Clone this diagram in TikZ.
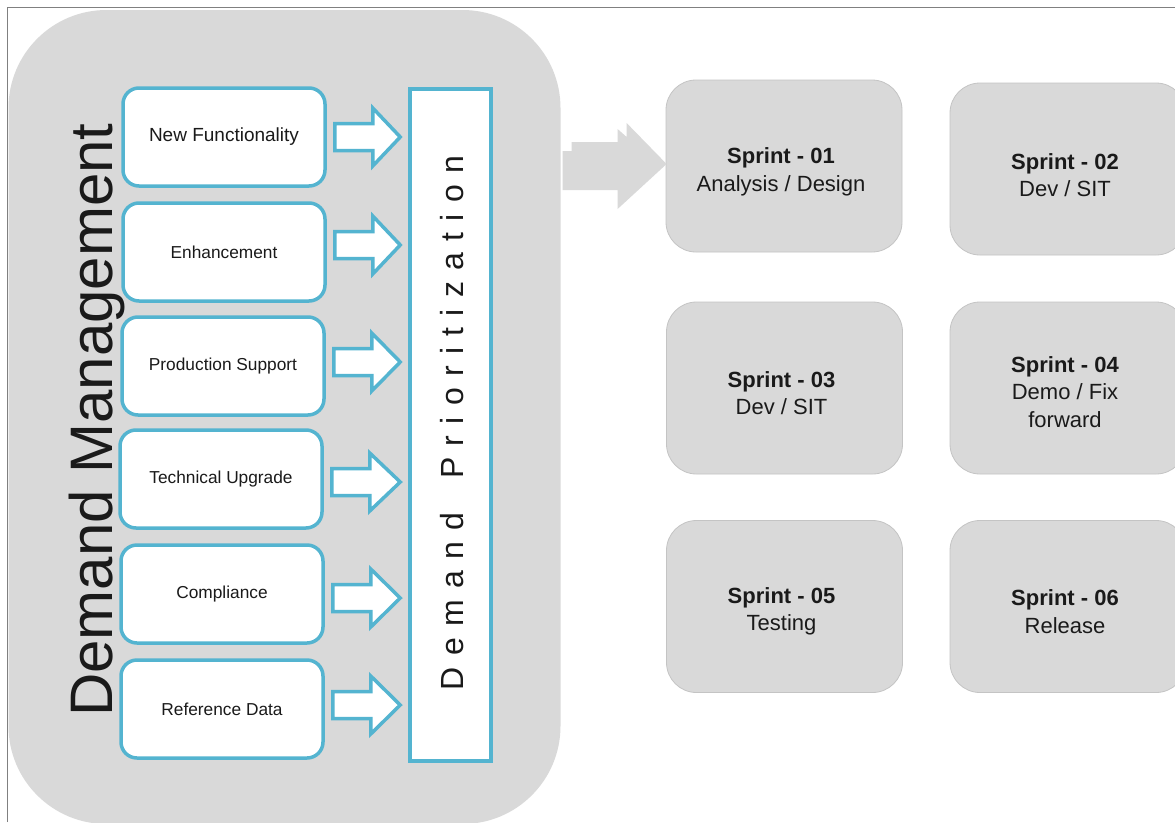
\documentclass[tikz,border=0pt]{standalone}
\usepackage{fontspec}
\setmainfont{Liberation Sans}
\usetikzlibrary{calc}

\definecolor{aqua}{RGB}{84,180,208}
\definecolor{panel}{RGB}{217,217,217}
\definecolor{panelline}{RGB}{196,196,196}
\definecolor{framegray}{RGB}{128,128,128}
\definecolor{ink}{RGB}{26,26,26}

% hollow block arrow from a demand box to the prioritization bar
\newcommand\feedarrow[2]{%
  \coordinate (fs) at ($(#1.east)+(8,#2)$);
  \coordinate (ft) at ($(prio.west |- fs)+(-8,0)$);
  \draw[hollow] ($(fs)+(0,-13.5)$) -- ($(fs)+(38,-13.5)$) -- ($(fs)+(38,-29)$)
    -- (ft) -- ($(fs)+(38,29)$) -- ($(fs)+(38,13.5)$) -- ($(fs)+(0,13.5)$) -- cycle;
}

\begin{document}
\begin{tikzpicture}[x=1pt,y=-1pt,
  demand/.style={draw=aqua, line width=3.5pt, fill=white, rounded corners=16pt,
    minimum width=202pt, minimum height=98pt, inner sep=0pt,
    font=\fontsize{17.3}{20}\selectfont, text=ink},
  sprint/.style={draw=panelline, line width=0.8pt, fill=panel, rounded corners=30pt,
    minimum width=236pt, minimum height=172pt, inner sep=0pt},
  sprinttext/.style={align=center, inner sep=0pt,
    font=\fontsize{22}{27.5}\selectfont, text=ink},
  hollow/.style={draw=aqua, line width=3.5pt, fill=white, line join=miter},
]
\useasboundingbox (0,0) rectangle (1175,822);
\fill[white] (0,0) rectangle (1175,822);

% outer frame
\draw[framegray, line width=1.2pt] (7.5,822) -- (7.5,7.5) -- (1175,7.5);

% demand management panel
\fill[panel, rounded corners=98pt] (8.5,10) rectangle (560.5,824);

\node[rotate=90, font=\fontsize{60}{60}\selectfont, text=ink] (dm) at (97,420) {Demand Management};

% demand categories
\node[demand, font=\fontsize{19}{22}\selectfont] (b1) at (224,137) {New Functionality};
\node[demand] (b2) at (224,252) {Enhancement};
\node[demand] (b3) at (223,366) {Production Support};
\node[demand] (b4) at (221,479) {Technical Upgrade};
\node[demand] (b5) at (222,594) {Compliance};
\node[demand] (b6) at (222,709) {Reference Data};

% prioritization bar
\node[draw=aqua, line width=3.5pt, fill=white, minimum width=81pt, minimum height=672pt,
  inner sep=0pt] (prio) at (450.5,425) {};
\def\ls{\hspace{11.3pt}}
\node[rotate=90, font=\fontsize{32}{32}\selectfont, text=ink, inner sep=0pt]
  (priotext) at ($(prio.center)+(2,-2)$)
  {D\ls e\ls m\ls a\ls n\ls d\hspace{34pt}P\ls r\ls i\ls o\ls r\ls i\ls t\ls i\ls z\ls a\ls t\ls i\ls o\ls n};

\feedarrow{b1}{0}
\feedarrow{b2}{-7}
\feedarrow{b3}{-4}
\feedarrow{b4}{3}
\feedarrow{b5}{4}
\feedarrow{b6}{-4}

% sprints
\node[sprint] (s1) at (784,166) {};
\node[sprint] (s2) at (1068,169) {};
\node[sprint] (s3) at (784.5,388) {};
\node[sprint] (s4) at (1068,388) {};
\node[sprint] (s5) at (784.5,606.5) {};
\node[sprint] (s6) at (1068,606.5) {};

\node[sprinttext] (t1) at ($(s1.center)+(-3,6)$) {\textbf{Sprint - 01}\\Analysis / Design};
\node[sprinttext] (t2) at ($(s2.center)+(-3,6)$) {\textbf{Sprint - 02}\\Dev / SIT};
\node[sprinttext] (t3) at ($(s3.center)+(-3,5)$) {\textbf{Sprint - 03}\\Dev / SIT};
\node[sprinttext] (t4) at ($(s4.center)+(-3,4)$) {\textbf{Sprint - 04}\\Demo / Fix\\forward};
\node[sprinttext] (t5) at ($(s5.center)+(-3,5)$) {\textbf{Sprint - 05}\\Testing};
\node[sprinttext] (t6) at ($(s6.center)+(-3,5)$) {\textbf{Sprint - 06}\\Release};

% hand-off arrow from the panel to the first sprint
\coordinate (tip) at ($(s1.west)+(1,-2)$);
\fill[panel] ($(tip)+(-104,-13)$) -- ($(tip)+(-95,-13)$) -- ($(tip)+(-95,-22)$)
  -- ($(tip)+(-49,-22)$) -- ($(tip)+(-49,-35)$) -- ($(tip)+(-40,-27)$)
  -- ($(tip)+(-40,-41)$) -- (tip) -- ($(tip)+(-49,45)$) -- ($(tip)+(-49,26)$)
  -- ($(tip)+(-104,26)$) -- cycle;
\end{tikzpicture}
\end{document}
